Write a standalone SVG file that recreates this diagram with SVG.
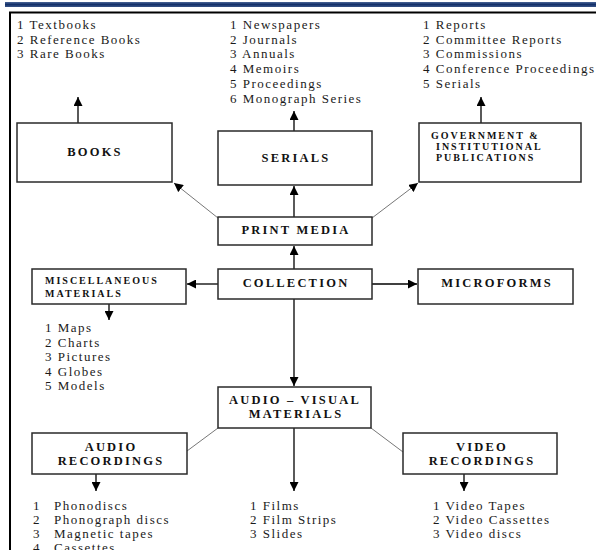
<svg xmlns="http://www.w3.org/2000/svg" width="596" height="550" viewBox="0 0 596 550">
<defs>
<marker id="ah" viewBox="0 0 10 10" refX="10" refY="5" markerWidth="9" markerHeight="9" markerUnits="userSpaceOnUse" orient="auto">
<path d="M0,0 L10,5 L0,10 z" fill="#000"/>
</marker>
<linearGradient id="bar" x1="0" y1="0" x2="0" y2="1">
<stop offset="0" stop-color="#4a6596"/>
<stop offset="0.5" stop-color="#13306a"/>
<stop offset="1" stop-color="#3a5588"/>
</linearGradient>
</defs>
<style>
.box{fill:#fff;stroke:#2a2a2a;stroke-width:1.5}
.lbl{font-family:"Liberation Serif","Times New Roman",serif;font-weight:bold;font-size:12.5px;letter-spacing:2.2px;fill:#111;text-anchor:middle}
.sm{font-family:"Liberation Serif","Times New Roman",serif;font-weight:bold;font-size:10px;letter-spacing:2px;fill:#111}
.lst{font-family:"Liberation Serif","Times New Roman",serif;font-size:13px;letter-spacing:1.5px;fill:#1a1a1a}
.con{stroke:#000;stroke-width:1.3;fill:none}
.dia{stroke:#777;stroke-width:1;fill:none}
</style>
<rect x="0" y="0" width="596" height="550" fill="#fff"/>
<rect x="5" y="2" width="591" height="5" fill="url(#bar)"/>
<line x1="9" y1="12.5" x2="596" y2="12.5" stroke="#000" stroke-width="2"/>
<line x1="10" y1="12" x2="10" y2="550" stroke="#000" stroke-width="2"/>

<g id="connectors">
<line class="con" x1="78" y1="123" x2="78" y2="97" marker-end="url(#ah)"/>
<line class="con" x1="294" y1="131" x2="294" y2="111" marker-end="url(#ah)"/>
<line class="con" x1="481" y1="123" x2="481" y2="97" marker-end="url(#ah)"/>
<line class="dia" x1="218" y1="218" x2="174" y2="183" marker-end="url(#ah)"/>
<line class="dia" x1="372" y1="218" x2="418" y2="183" marker-end="url(#ah)"/>
<line class="con" x1="294" y1="217" x2="294" y2="186" marker-end="url(#ah)"/>
<line class="con" x1="294" y1="269" x2="294" y2="246" marker-end="url(#ah)"/>
<line class="con" x1="218" y1="284" x2="187" y2="284" marker-end="url(#ah)"/>
<line class="con" x1="372" y1="284" x2="417" y2="284" marker-end="url(#ah)"/>
<line class="con" x1="109" y1="304" x2="109" y2="320" marker-end="url(#ah)"/>
<line class="con" x1="294" y1="299" x2="294" y2="386" marker-end="url(#ah)"/>
<line class="dia" x1="218" y1="428" x2="187" y2="451"/>
<line class="dia" x1="371" y1="428" x2="403" y2="452"/>
<line class="con" x1="294" y1="428" x2="294" y2="491" marker-end="url(#ah)"/>
<line class="con" x1="96" y1="474" x2="96" y2="491" marker-end="url(#ah)"/>
<line class="con" x1="464" y1="474" x2="464" y2="491" marker-end="url(#ah)"/>
</g>

<g id="books-list">
<text class="lst" x="17" y="29">1 Textbooks</text>
<text class="lst" x="17" y="43.5">2 Reference Books</text>
<text class="lst" x="17" y="58">3 Rare Books</text>
</g>
<g id="serials-list">
<text class="lst" x="230" y="29">1 Newspapers</text>
<text class="lst" x="230" y="43.5">2 Journals</text>
<text class="lst" x="230" y="58">3 Annuals</text>
<text class="lst" x="230" y="73">4 Memoirs</text>
<text class="lst" x="230" y="88">5 Proceedings</text>
<text class="lst" x="230" y="103">6 Monograph Series</text>
</g>
<g id="gov-list">
<text class="lst" x="423" y="29">1 Reports</text>
<text class="lst" x="423" y="43.5">2 Committee Reports</text>
<text class="lst" x="423" y="58">3 Commissions</text>
<text class="lst" x="423" y="73">4 Conference Proceedings</text>
<text class="lst" x="423" y="88">5 Serials</text>
</g>

<g id="books">
<rect class="box" x="17" y="123" width="155" height="59"/>
<text class="lbl" x="95" y="156">BOOKS</text>
</g>
<g id="serials">
<rect class="box" x="218" y="131" width="154" height="54"/>
<text class="lbl" x="296" y="162">SERIALS</text>
</g>
<g id="government">
<rect class="box" x="419" y="123" width="162" height="59"/>
<text class="sm" x="431" y="139">GOVERNMENT &amp;</text>
<text class="sm" x="436" y="150">INSTITUTIONAL</text>
<text class="sm" x="436" y="161">PUBLICATIONS</text>
</g>
<g id="print-media">
<rect class="box" x="218" y="217" width="154" height="28"/>
<text class="lbl" x="296" y="234">PRINT MEDIA</text>
</g>
<g id="collection">
<rect class="box" x="218" y="269" width="154" height="30"/>
<text class="lbl" x="296" y="287">COLLECTION</text>
</g>
<g id="miscellaneous">
<rect class="box" x="32" y="269" width="154" height="35"/>
<text class="sm" x="45" y="284">MISCELLANEOUS</text>
<text class="sm" x="45" y="297">MATERIALS</text>
</g>
<g id="microforms">
<rect class="box" x="418" y="269" width="155" height="35"/>
<text class="lbl" x="497" y="287">MICROFORMS</text>
</g>
<g id="misc-list">
<text class="lst" x="45" y="332">1 Maps</text>
<text class="lst" x="45" y="347">2 Charts</text>
<text class="lst" x="45" y="361">3 Pictures</text>
<text class="lst" x="45" y="376">4 Globes</text>
<text class="lst" x="45" y="390">5 Models</text>
</g>
<g id="audio-visual">
<rect class="box" x="218" y="387" width="153" height="41"/>
<text class="lbl" x="295" y="404">AUDIO – VISUAL</text>
<text class="lbl" x="296" y="418">MATERIALS</text>
</g>
<g id="audio-recordings">
<rect class="box" x="32" y="433" width="155" height="41"/>
<text class="lbl" x="111" y="451">AUDIO</text>
<text class="lbl" x="111" y="465">RECORDINGS</text>
</g>
<g id="video-recordings">
<rect class="box" x="403" y="433" width="154" height="41"/>
<text class="lbl" x="482" y="451">VIDEO</text>
<text class="lbl" x="482" y="465">RECORDINGS</text>
</g>
<g id="audio-list">
<text class="lst" x="33" y="510">1</text><text class="lst" x="54" y="510">Phonodiscs</text>
<text class="lst" x="33" y="524">2</text><text class="lst" x="54" y="524">Phonograph discs</text>
<text class="lst" x="33" y="538">3</text><text class="lst" x="54" y="538">Magnetic tapes</text>
<text class="lst" x="33" y="552">4</text><text class="lst" x="54" y="552">Cassettes</text>
</g>
<g id="film-list">
<text class="lst" x="250" y="510">1 Films</text>
<text class="lst" x="250" y="524">2 Film Strips</text>
<text class="lst" x="250" y="538">3 Slides</text>
</g>
<g id="video-list">
<text class="lst" x="433" y="510">1 Video Tapes</text>
<text class="lst" x="433" y="524">2 Video Cassettes</text>
<text class="lst" x="433" y="538">3 Video discs</text>
</g>
</svg>
